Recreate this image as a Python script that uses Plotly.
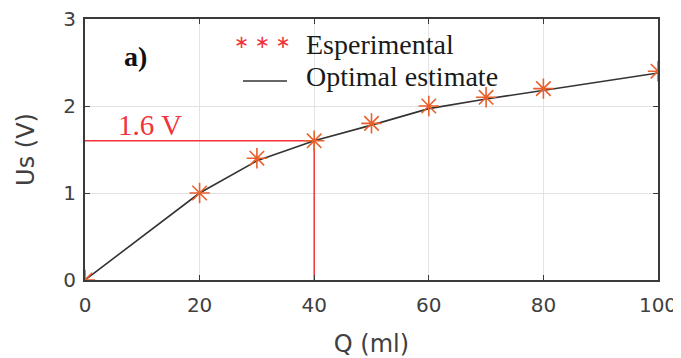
import plotly.graph_objects as go

# Data
q_exp = [0, 20, 30, 40, 50, 60, 70, 80, 100]
us_exp = [0.0, 1.0, 1.4, 1.6, 1.8, 2.0, 2.1, 2.2, 2.4]
q_fit = [0, 20, 30, 40, 50, 60, 70, 80, 100]
us_fit = [0.0, 1.0, 1.37, 1.6, 1.78, 1.97, 2.08, 2.18, 2.38]
ref_q = 40
ref_us = 1.6
x_ticks = [0, 20, 40, 60, 80, 100]
y_ticks = [0, 1, 2, 3]

RED = "#F2333A"
ORANGE = "#E8602C"
LINE = "#333333"
SERIF = "Liberation Serif, Times New Roman, serif"
SANS = "DejaVu Sans, Arial, sans-serif"
TXT = "#404040"
NB = "\u00a0"

fig = go.Figure()

# reference guide lines
fig.add_trace(go.Scatter(
    x=[q_exp[0], ref_q, ref_q], y=[ref_us, ref_us, us_exp[0]],
    mode="lines", line=dict(color=RED, width=1.5),
    showlegend=False, hoverinfo="skip"))

fig.add_trace(go.Scatter(
    x=q_fit, y=us_fit, mode="lines",
    line=dict(color=LINE, width=1.6),
    name="Optimal estimate", showlegend=False))

fig.add_trace(go.Scatter(
    x=q_exp, y=us_exp, mode="markers",
    marker=dict(symbol="asterisk-open", size=17, color=ORANGE,
                line=dict(color=ORANGE, width=1.6)),
    name="Esperimental", showlegend=False))

# value label
fig.add_annotation(x=11.3, y=ref_us, yshift=16, xref="x", yref="y",
                   xanchor="center", yanchor="middle",
                   text="1.6 V", showarrow=False,
                   font=dict(family=SERIF, size=29, color=RED))

# panel label
fig.add_annotation(x=0.089, y=0.858, xref="paper", yref="paper",
                   xanchor="center", yanchor="middle",
                   text="<b>a)</b>", showarrow=False,
                   font=dict(family=SERIF, size=28, color="#111111"))

# hand-drawn legend (to reproduce the "* * *" marker sample)
fig.add_annotation(x=0.3106, y=0.912, xref="paper", yref="paper",
                   xanchor="center", yanchor="middle",
                   text="\u2217" + NB + "\u2217" + NB + "\u2217", showarrow=False,
                   font=dict(family="DejaVu Sans", size=18, color=RED))
fig.add_shape(type="line", xref="paper", yref="paper",
              x0=0.2757, x1=0.3525, y0=0.7625, y1=0.7625,
              line=dict(color=LINE, width=1.6))
fig.add_annotation(x=0.3822, y=0.9007, xref="paper", yref="paper",
                   xanchor="left", yanchor="middle",
                   text="Esperimental", showarrow=False,
                   font=dict(family=SERIF, size=28, color="#1a1a1a"))
fig.add_annotation(x=0.3822, y=0.778, xref="paper", yref="paper",
                   xanchor="left", yanchor="middle",
                   text="Optimal estimate", showarrow=False,
                   font=dict(family=SERIF, size=28, color="#1a1a1a"))

axis_common = dict(
    showline=True, linecolor="#3a3a3a", linewidth=2, mirror="allticks",
    ticks="inside", ticklen=5, tickcolor="#3a3a3a", tickwidth=1,
    showgrid=True, gridcolor="#E3E3E3", gridwidth=1, zeroline=False,
    automargin=False, ticklabeloverflow="allow",
    tickfont=dict(family=SANS, size=20, color=TXT),
)

fig.update_xaxes(range=[0, 100], tickvals=x_ticks, ticklabelstandoff=6,
                 title=dict(text="Q (ml)", font=dict(family=SANS, size=24, color=TXT), standoff=19),
                 **axis_common)
fig.update_yaxes(range=[0, 3], tickvals=y_ticks, ticklabelstandoff=3,
                 title=dict(text="Us (V)", font=dict(family=SANS, size=24, color=TXT), standoff=22),
                 **axis_common)

# page body has an 8px margin, so the figure is sized/offset to compensate
fig.update_layout(
    width=673, height=350,
    margin=dict(l=77, r=23, t=11, b=78),
    plot_bgcolor="white", paper_bgcolor="white",
    showlegend=False,
)

fig.write_html("out.html")
